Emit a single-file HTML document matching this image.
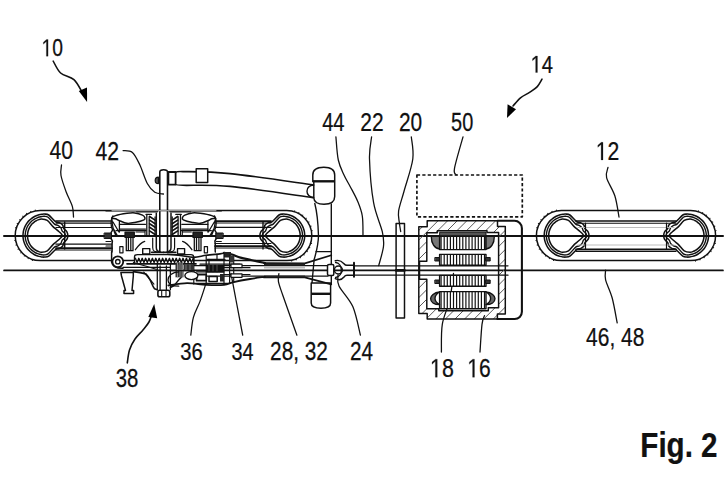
<!DOCTYPE html>
<html><head><meta charset="utf-8"><style>
html,body{margin:0;padding:0;background:#fff;width:728px;height:483px;overflow:hidden}
svg{display:block}
text{font-family:"Liberation Sans",sans-serif;fill:#111;stroke:#111;stroke-width:0.25px}
</style></head><body>
<svg width="728" height="483" viewBox="0 0 728 483">
<rect width="728" height="483" fill="#fff"/>
<g stroke="#111" stroke-linecap="round" stroke-linejoin="round" fill="none">
<path d="M61.50 165.00 C61.42 166.75 60.22 171.00 61.00 175.50 C61.78 180.00 64.30 186.82 66.20 192.00 C68.10 197.18 71.18 202.43 72.40 206.60 C73.62 210.77 73.32 215.27 73.50 217.00" stroke-width="1.28" fill="none" />
<path d="M123.10 150.60 C124.65 150.90 129.62 150.03 132.40 152.40 C135.18 154.77 137.32 159.62 139.80 164.80 C142.28 169.98 144.80 178.93 147.30 183.50 C149.80 188.07 152.12 190.45 154.80 192.20 C157.48 193.95 161.97 193.70 163.40 194.00" stroke-width="1.28" fill="none" />
<path d="M335.90 136.80 C336.30 140.67 336.95 153.63 338.30 160.00 C339.65 166.37 342.05 170.63 344.00 175.00 C345.95 179.37 347.75 181.87 350.00 186.20 C352.25 190.53 355.45 196.03 357.50 201.00 C359.55 205.97 361.38 210.17 362.30 216.00 C363.22 221.83 362.88 232.67 363.00 236.00" stroke-width="1.28" fill="none" />
<path d="M371.60 136.80 C371.25 140.50 369.17 148.02 369.50 159.00 C369.83 169.98 371.47 190.58 373.60 202.70 C375.73 214.82 380.65 224.43 382.30 231.70 C383.95 238.97 384.10 240.65 383.50 246.30 C382.90 251.95 379.50 262.38 378.70 265.60" stroke-width="1.28" fill="none" />
<path d="M411.30 136.80 C411.55 140.50 414.00 149.97 412.80 159.00 C411.60 168.03 406.47 182.33 404.10 191.00 C401.73 199.67 399.38 205.67 398.60 211.00 C397.82 216.33 399.05 219.58 399.40 223.00 C399.75 226.42 400.48 230.08 400.70 231.50" stroke-width="1.28" fill="none" />
<path d="M463.00 136.80 C461.58 142.05 455.63 161.95 454.50 168.30 C453.37 174.65 455.92 173.80 456.20 174.90" stroke-width="1.28" fill="none" />
<path d="M608.00 167.30 C607.77 169.02 605.45 172.82 606.60 177.60 C607.75 182.38 612.83 189.43 614.90 196.00 C616.97 202.57 618.32 213.50 619.00 217.00" stroke-width="1.28" fill="none" />
<path d="M605.60 270.20 C605.60 271.80 604.50 275.17 605.60 279.80 C606.70 284.43 610.27 290.82 612.20 298.00 C614.13 305.18 616.37 318.75 617.20 322.90" stroke-width="1.28" fill="none" />
<path d="M190.80 335.20 C191.23 332.22 191.87 322.93 193.40 317.30 C194.93 311.67 197.90 307.05 200.00 301.40 C202.10 295.75 205.00 286.40 206.00 283.40" stroke-width="1.28" fill="none" />
<path d="M242.70 335.20 C241.58 329.33 237.95 310.28 236.00 300.00 C234.05 289.72 231.83 277.92 231.00 273.50" stroke-width="1.28" fill="none" />
<path d="M296.90 335.20 C294.53 328.50 285.78 303.98 282.70 295.00 C279.62 286.02 279.03 284.87 278.40 281.30 C277.77 277.73 278.82 274.88 278.90 273.60" stroke-width="1.28" fill="none" />
<path d="M360.40 335.20 C359.13 330.43 356.37 314.80 352.80 306.60 C349.23 298.40 341.47 291.27 339.00 286.00 C336.53 280.73 338.17 276.83 338.00 275.00" stroke-width="1.28" fill="none" />
<path d="M441.40 352.00 C441.55 347.38 440.90 333.05 442.30 324.30 C443.70 315.55 447.93 307.98 449.80 299.50 C451.67 291.02 452.88 277.75 453.50 273.40" stroke-width="1.28" fill="none" />
<path d="M480.00 352.00 C480.33 347.38 481.25 330.37 482.00 324.30 C482.75 318.23 484.08 317.05 484.50 315.60" stroke-width="1.28" fill="none" />
<path d="M53.20 61.10 C54.43 63.08 57.15 69.90 60.60 73.00 C64.05 76.10 70.33 76.53 73.90 79.70 C77.47 82.87 80.65 89.95 82.00 92.00" stroke-width="1.58" fill="none" />
<path d="M87.10 102.00 L78.80 91.00 L87.00 87.50 Z" fill="#000" stroke="none"/>
<path d="M542.00 79.20 C541.22 80.43 539.32 84.43 537.30 86.60 C535.28 88.77 532.70 90.33 529.90 92.20 C527.10 94.07 523.32 95.50 520.50 97.80 C517.68 100.10 514.25 104.63 513.00 106.00" stroke-width="1.58" fill="none" />
<path d="M507.00 118.00 L507.60 104.20 L516.00 109.20 Z" fill="#000" stroke="none"/>
<path d="M127.30 362.90 C127.67 360.75 128.22 353.98 129.50 350.00 C130.78 346.02 132.75 342.33 135.00 339.00 C137.25 335.67 140.67 332.83 143.00 330.00 C145.33 327.17 147.50 324.67 149.00 322.00 C150.50 319.33 151.50 315.33 152.00 314.00" stroke-width="1.58" fill="none" />
<path d="M154.20 304.00 L148.30 317.00 L157.20 318.20 Z" fill="#000" stroke="none"/>
<line x1="4.00" y1="236.00" x2="723.00" y2="236.00" stroke-width="1.98" />
<line x1="4.00" y1="270.40" x2="723.00" y2="270.40" stroke-width="1.68" />
<path d="M40.20 210.60 L286.80 210.60 A25.00 25.00 0 0 1 286.80 260.60 L40.20 260.60 A25.00 25.00 0 0 1 40.20 210.60 Z" stroke-width="1.48"/>
<path d="M35.72 210.19 C35.35 210.27 34.25 210.49 33.52 210.68 C32.80 210.87 32.08 211.10 31.38 211.36 C30.67 211.61 29.98 211.90 29.30 212.22 C28.62 212.53 27.95 212.88 27.30 213.26 C26.65 213.63 26.02 214.04 25.40 214.47 C24.79 214.90 24.19 215.35 23.62 215.84 C23.04 216.32 22.49 216.83 21.96 217.36 C21.43 217.89 20.92 218.44 20.44 219.02 C19.95 219.59 19.50 220.19 19.07 220.80 C18.64 221.42 18.23 222.05 17.86 222.70 C17.48 223.35 17.13 224.02 16.82 224.70 C16.50 225.38 16.21 226.07 15.96 226.78 C15.70 227.48 15.47 228.20 15.28 228.92 C15.09 229.65 14.87 230.75 14.79 231.12" stroke-width="1.28" stroke-dasharray="1.0 3.6" stroke-linecap="butt"/>
<path d="M14.79 240.08 C14.87 240.45 15.09 241.55 15.28 242.28 C15.47 243.00 15.70 243.72 15.96 244.42 C16.21 245.13 16.50 245.82 16.82 246.50 C17.13 247.18 17.48 247.85 17.86 248.50 C18.23 249.15 18.64 249.78 19.07 250.40 C19.50 251.01 19.95 251.61 20.44 252.18 C20.92 252.76 21.43 253.31 21.96 253.84 C22.49 254.37 23.04 254.88 23.62 255.36 C24.19 255.85 24.79 256.30 25.40 256.73 C26.02 257.16 26.65 257.57 27.30 257.94 C27.95 258.32 28.62 258.67 29.30 258.98 C29.98 259.30 30.67 259.59 31.38 259.84 C32.08 260.10 32.80 260.33 33.52 260.52 C34.25 260.71 35.35 260.93 35.72 261.01" stroke-width="1.28" stroke-dasharray="1.0 3.6" stroke-linecap="butt"/>
<path d="M291.28 261.01 C291.65 260.93 292.75 260.71 293.48 260.52 C294.20 260.33 294.92 260.10 295.62 259.84 C296.33 259.59 297.02 259.30 297.70 258.98 C298.38 258.67 299.05 258.32 299.70 257.94 C300.35 257.57 300.98 257.16 301.60 256.73 C302.21 256.30 302.81 255.85 303.38 255.36 C303.96 254.88 304.51 254.37 305.04 253.84 C305.57 253.31 306.08 252.76 306.56 252.18 C307.05 251.61 307.50 251.01 307.93 250.40 C308.36 249.78 308.77 249.15 309.14 248.50 C309.52 247.85 309.87 247.18 310.18 246.50 C310.50 245.82 310.79 245.13 311.04 244.42 C311.30 243.72 311.53 243.00 311.72 242.28 C311.91 241.55 312.13 240.45 312.21 240.08" stroke-width="1.28" stroke-dasharray="1.0 3.6" stroke-linecap="butt"/>
<path d="M312.21 231.12 C312.13 230.75 311.91 229.65 311.72 228.92 C311.53 228.20 311.30 227.48 311.04 226.78 C310.79 226.07 310.50 225.38 310.18 224.70 C309.87 224.02 309.52 223.35 309.14 222.70 C308.77 222.05 308.36 221.42 307.93 220.80 C307.50 220.19 307.05 219.59 306.56 219.02 C306.08 218.44 305.57 217.89 305.04 217.36 C304.51 216.83 303.96 216.32 303.38 215.84 C302.81 215.35 302.21 214.90 301.60 214.47 C300.98 214.04 300.35 213.63 299.70 213.26 C299.05 212.88 298.38 212.53 297.70 212.22 C297.02 211.90 296.33 211.61 295.62 211.36 C294.92 211.10 294.20 210.87 293.48 210.68 C292.75 210.49 291.65 210.27 291.28 210.19" stroke-width="1.28" stroke-dasharray="1.0 3.6" stroke-linecap="butt"/>
<path d="M44.50 214.10 C43.33 213.98 42.62 214.16 41.69 214.28 C40.77 214.41 39.84 214.59 38.94 214.83 C38.03 215.07 37.14 215.38 36.27 215.74 C35.41 216.09 34.56 216.51 33.75 216.98 C32.94 217.45 32.15 217.97 31.41 218.54 C30.67 219.11 29.96 219.74 29.30 220.40 C28.64 221.06 28.01 221.77 27.44 222.51 C26.87 223.25 26.35 224.04 25.88 224.85 C25.41 225.66 24.99 226.51 24.64 227.37 C24.28 228.24 23.97 229.13 23.73 230.04 C23.49 230.94 23.31 231.87 23.18 232.79 C23.06 233.72 23.00 234.66 23.00 235.60 C23.00 236.54 23.06 237.48 23.18 238.41 C23.31 239.33 23.49 240.26 23.73 241.16 C23.97 242.07 24.28 242.96 24.64 243.83 C24.99 244.69 25.41 245.54 25.88 246.35 C26.35 247.16 26.87 247.95 27.44 248.69 C28.01 249.43 28.64 250.14 29.30 250.80 C29.96 251.46 30.67 252.09 31.41 252.66 C32.15 253.23 32.94 253.75 33.75 254.22 C34.56 254.69 35.41 255.11 36.27 255.46 C37.14 255.82 38.03 256.13 38.94 256.37 C39.84 256.61 40.77 256.79 41.69 256.92 C42.62 257.04 43.33 257.22 44.50 257.10 C45.67 256.98 46.87 257.45 48.70 256.20 C50.53 254.95 53.75 250.87 55.50 249.60 C57.25 248.33 58.02 249.17 59.20 248.60 C60.38 248.03 61.83 247.20 62.60 246.20 C63.37 245.20 63.08 243.73 63.80 242.60 C64.52 241.47 66.23 240.57 66.90 239.40 C67.57 238.23 67.80 236.87 67.80 235.60 C67.80 234.33 67.57 232.97 66.90 231.80 C66.23 230.63 64.52 229.73 63.80 228.60 C63.08 227.47 63.37 226.00 62.60 225.00 C61.83 224.00 60.38 223.17 59.20 222.60 C58.02 222.03 57.25 222.87 55.50 221.60 C53.75 220.33 50.53 216.25 48.70 215.00 C46.87 213.75 45.67 214.22 44.50 214.10 Z" stroke-width="1.53" fill="none"/>
<path d="M44.50 216.30 C43.48 216.16 42.81 216.36 41.98 216.47 C41.15 216.57 40.32 216.74 39.50 216.96 C38.69 217.17 37.89 217.45 37.11 217.77 C36.34 218.09 35.58 218.47 34.85 218.89 C34.12 219.31 33.42 219.78 32.75 220.29 C32.08 220.80 31.45 221.36 30.85 221.95 C30.26 222.55 29.70 223.18 29.19 223.85 C28.68 224.52 28.21 225.22 27.79 225.95 C27.37 226.68 26.99 227.44 26.67 228.21 C26.35 228.99 26.07 229.79 25.86 230.60 C25.64 231.42 25.47 232.25 25.37 233.08 C25.26 233.91 25.20 234.76 25.20 235.60 C25.20 236.44 25.26 237.29 25.37 238.12 C25.47 238.95 25.64 239.78 25.86 240.60 C26.07 241.41 26.35 242.21 26.67 242.99 C26.99 243.76 27.37 244.52 27.79 245.25 C28.21 245.98 28.68 246.68 29.19 247.35 C29.70 248.02 30.26 248.65 30.85 249.25 C31.45 249.84 32.08 250.40 32.75 250.91 C33.42 251.42 34.12 251.89 34.85 252.31 C35.58 252.73 36.34 253.11 37.11 253.43 C37.89 253.75 38.69 254.03 39.50 254.24 C40.32 254.46 41.15 254.63 41.98 254.73 C42.81 254.84 43.48 255.04 44.50 254.90 C45.52 254.76 46.43 255.20 48.10 253.90 C49.77 252.60 52.87 248.43 54.50 247.10 C56.13 245.77 56.83 246.52 57.90 245.90 C58.97 245.28 60.20 244.32 60.90 243.40 C61.60 242.48 61.43 241.37 62.10 240.40 C62.77 239.43 64.37 238.40 64.90 237.60 C65.43 236.80 65.30 236.27 65.30 235.60 C65.30 234.93 65.43 234.40 64.90 233.60 C64.37 232.80 62.77 231.77 62.10 230.80 C61.43 229.83 61.60 228.72 60.90 227.80 C60.20 226.88 58.97 225.92 57.90 225.30 C56.83 224.68 56.13 225.43 54.50 224.10 C52.87 222.77 49.77 218.60 48.10 217.30 C46.43 216.00 45.52 216.44 44.50 216.30 Z" stroke-width="1.38" fill="none"/>
<path d="M41.50 218.90 C39.95 218.82 38.91 219.56 37.99 219.89 C37.08 220.22 36.64 220.51 36.00 220.88 C35.36 221.25 34.74 221.66 34.15 222.11 C33.56 222.56 33.00 223.06 32.48 223.58 C31.96 224.10 31.46 224.66 31.01 225.25 C30.56 225.84 30.15 226.46 29.78 227.10 C29.41 227.74 29.08 228.41 28.79 229.09 C28.51 229.78 28.27 230.49 28.08 231.20 C27.89 231.91 27.74 232.65 27.65 233.38 C27.55 234.11 27.50 234.86 27.50 235.60 C27.50 236.34 27.55 237.09 27.65 237.82 C27.74 238.55 27.89 239.29 28.08 240.00 C28.27 240.71 28.51 241.42 28.79 242.11 C29.08 242.79 29.41 243.46 29.78 244.10 C30.15 244.74 30.56 245.36 31.01 245.95 C31.46 246.54 31.96 247.10 32.48 247.62 C33.00 248.14 33.56 248.64 34.15 249.09 C34.74 249.54 35.36 249.95 36.00 250.32 C36.64 250.69 37.08 250.98 37.99 251.31 C38.91 251.64 39.95 252.38 41.50 252.30 C43.05 252.22 45.38 252.08 47.30 250.80 C49.22 249.52 51.30 246.27 53.00 244.60 C54.70 242.93 55.95 242.30 57.50 240.80 C59.05 239.30 62.30 237.33 62.30 235.60 C62.30 233.87 59.05 231.90 57.50 230.40 C55.95 228.90 54.70 228.27 53.00 226.60 C51.30 224.93 49.22 221.68 47.30 220.40 C45.38 219.12 43.05 218.98 41.50 218.90 Z" stroke-width="1.53" fill="none"/>
<path d="M283.20 214.10 C284.37 213.98 285.08 214.16 286.01 214.28 C286.93 214.41 287.86 214.59 288.76 214.83 C289.67 215.07 290.56 215.38 291.43 215.74 C292.29 216.09 293.14 216.51 293.95 216.98 C294.76 217.45 295.55 217.97 296.29 218.54 C297.03 219.11 297.74 219.74 298.40 220.40 C299.06 221.06 299.69 221.77 300.26 222.51 C300.83 223.25 301.35 224.04 301.82 224.85 C302.29 225.66 302.71 226.51 303.06 227.37 C303.42 228.24 303.73 229.13 303.97 230.04 C304.21 230.94 304.39 231.87 304.52 232.79 C304.64 233.72 304.70 234.66 304.70 235.60 C304.70 236.54 304.64 237.48 304.52 238.41 C304.39 239.33 304.21 240.26 303.97 241.16 C303.73 242.07 303.42 242.96 303.06 243.83 C302.71 244.69 302.29 245.54 301.82 246.35 C301.35 247.16 300.83 247.95 300.26 248.69 C299.69 249.43 299.06 250.14 298.40 250.80 C297.74 251.46 297.03 252.09 296.29 252.66 C295.55 253.23 294.76 253.75 293.95 254.22 C293.14 254.69 292.29 255.11 291.43 255.46 C290.56 255.82 289.67 256.13 288.76 256.37 C287.86 256.61 286.93 256.79 286.01 256.92 C285.08 257.04 284.37 257.22 283.20 257.10 C282.03 256.98 280.83 257.45 279.00 256.20 C277.17 254.95 273.95 250.87 272.20 249.60 C270.45 248.33 269.68 249.17 268.50 248.60 C267.32 248.03 265.87 247.20 265.10 246.20 C264.33 245.20 264.62 243.73 263.90 242.60 C263.18 241.47 261.47 240.57 260.80 239.40 C260.13 238.23 259.90 236.87 259.90 235.60 C259.90 234.33 260.13 232.97 260.80 231.80 C261.47 230.63 263.18 229.73 263.90 228.60 C264.62 227.47 264.33 226.00 265.10 225.00 C265.87 224.00 267.32 223.17 268.50 222.60 C269.68 222.03 270.45 222.87 272.20 221.60 C273.95 220.33 277.17 216.25 279.00 215.00 C280.83 213.75 282.03 214.22 283.20 214.10 Z" stroke-width="1.53" fill="none"/>
<path d="M283.20 216.30 C284.22 216.16 284.89 216.36 285.72 216.47 C286.55 216.57 287.38 216.74 288.20 216.96 C289.01 217.17 289.81 217.45 290.59 217.77 C291.36 218.09 292.12 218.47 292.85 218.89 C293.58 219.31 294.28 219.78 294.95 220.29 C295.62 220.80 296.25 221.36 296.85 221.95 C297.44 222.55 298.00 223.18 298.51 223.85 C299.02 224.52 299.49 225.22 299.91 225.95 C300.33 226.68 300.71 227.44 301.03 228.21 C301.35 228.99 301.63 229.79 301.84 230.60 C302.06 231.42 302.23 232.25 302.33 233.08 C302.44 233.91 302.50 234.76 302.50 235.60 C302.50 236.44 302.44 237.29 302.33 238.12 C302.23 238.95 302.06 239.78 301.84 240.60 C301.63 241.41 301.35 242.21 301.03 242.99 C300.71 243.76 300.33 244.52 299.91 245.25 C299.49 245.98 299.02 246.68 298.51 247.35 C298.00 248.02 297.44 248.65 296.85 249.25 C296.25 249.84 295.62 250.40 294.95 250.91 C294.28 251.42 293.58 251.89 292.85 252.31 C292.12 252.73 291.36 253.11 290.59 253.43 C289.81 253.75 289.01 254.03 288.20 254.24 C287.38 254.46 286.55 254.63 285.72 254.73 C284.89 254.84 284.22 255.04 283.20 254.90 C282.18 254.76 281.27 255.20 279.60 253.90 C277.93 252.60 274.83 248.43 273.20 247.10 C271.57 245.77 270.87 246.52 269.80 245.90 C268.73 245.28 267.50 244.32 266.80 243.40 C266.10 242.48 266.27 241.37 265.60 240.40 C264.93 239.43 263.33 238.40 262.80 237.60 C262.27 236.80 262.40 236.27 262.40 235.60 C262.40 234.93 262.27 234.40 262.80 233.60 C263.33 232.80 264.93 231.77 265.60 230.80 C266.27 229.83 266.10 228.72 266.80 227.80 C267.50 226.88 268.73 225.92 269.80 225.30 C270.87 224.68 271.57 225.43 273.20 224.10 C274.83 222.77 277.93 218.60 279.60 217.30 C281.27 216.00 282.18 216.44 283.20 216.30 Z" stroke-width="1.38" fill="none"/>
<path d="M286.20 218.90 C287.75 218.82 288.79 219.56 289.71 219.89 C290.62 220.22 291.06 220.51 291.70 220.88 C292.34 221.25 292.96 221.66 293.55 222.11 C294.14 222.56 294.70 223.06 295.22 223.58 C295.74 224.10 296.24 224.66 296.69 225.25 C297.14 225.84 297.55 226.46 297.92 227.10 C298.29 227.74 298.62 228.41 298.91 229.09 C299.19 229.78 299.43 230.49 299.62 231.20 C299.81 231.91 299.96 232.65 300.05 233.38 C300.15 234.11 300.20 234.86 300.20 235.60 C300.20 236.34 300.15 237.09 300.05 237.82 C299.96 238.55 299.81 239.29 299.62 240.00 C299.43 240.71 299.19 241.42 298.91 242.11 C298.62 242.79 298.29 243.46 297.92 244.10 C297.55 244.74 297.14 245.36 296.69 245.95 C296.24 246.54 295.74 247.10 295.22 247.62 C294.70 248.14 294.14 248.64 293.55 249.09 C292.96 249.54 292.34 249.95 291.70 250.32 C291.06 250.69 290.62 250.98 289.71 251.31 C288.79 251.64 287.75 252.38 286.20 252.30 C284.65 252.22 282.32 252.08 280.40 250.80 C278.48 249.52 276.40 246.27 274.70 244.60 C273.00 242.93 271.75 242.30 270.20 240.80 C268.65 239.30 265.40 237.33 265.40 235.60 C265.40 233.87 268.65 231.90 270.20 230.40 C271.75 228.90 273.00 228.27 274.70 226.60 C276.40 224.93 278.48 221.68 280.40 220.40 C282.32 219.12 284.65 218.98 286.20 218.90 Z" stroke-width="1.53" fill="none"/>
<path d="M561.40 210.60 L690.60 210.60 A25.00 25.00 0 0 1 690.60 260.60 L561.40 260.60 A25.00 25.00 0 0 1 561.40 210.60 Z" stroke-width="1.48"/>
<path d="M556.92 210.19 C556.55 210.27 555.45 210.49 554.72 210.68 C554.00 210.87 553.28 211.10 552.58 211.36 C551.87 211.61 551.18 211.90 550.50 212.22 C549.82 212.53 549.15 212.88 548.50 213.26 C547.85 213.63 547.22 214.04 546.60 214.47 C545.99 214.90 545.39 215.35 544.82 215.84 C544.24 216.32 543.69 216.83 543.16 217.36 C542.63 217.89 542.12 218.44 541.64 219.02 C541.15 219.59 540.70 220.19 540.27 220.80 C539.84 221.42 539.43 222.05 539.06 222.70 C538.68 223.35 538.33 224.02 538.02 224.70 C537.70 225.38 537.41 226.07 537.16 226.78 C536.90 227.48 536.67 228.20 536.48 228.92 C536.29 229.65 536.07 230.75 535.99 231.12" stroke-width="1.28" stroke-dasharray="1.0 3.6" stroke-linecap="butt"/>
<path d="M535.99 240.08 C536.07 240.45 536.29 241.55 536.48 242.28 C536.67 243.00 536.90 243.72 537.16 244.42 C537.41 245.13 537.70 245.82 538.02 246.50 C538.33 247.18 538.68 247.85 539.06 248.50 C539.43 249.15 539.84 249.78 540.27 250.40 C540.70 251.01 541.15 251.61 541.64 252.18 C542.12 252.76 542.63 253.31 543.16 253.84 C543.69 254.37 544.24 254.88 544.82 255.36 C545.39 255.85 545.99 256.30 546.60 256.73 C547.22 257.16 547.85 257.57 548.50 257.94 C549.15 258.32 549.82 258.67 550.50 258.98 C551.18 259.30 551.87 259.59 552.58 259.84 C553.28 260.10 554.00 260.33 554.72 260.52 C555.45 260.71 556.55 260.93 556.92 261.01" stroke-width="1.28" stroke-dasharray="1.0 3.6" stroke-linecap="butt"/>
<path d="M695.08 261.01 C695.45 260.93 696.55 260.71 697.28 260.52 C698.00 260.33 698.72 260.10 699.42 259.84 C700.13 259.59 700.82 259.30 701.50 258.98 C702.18 258.67 702.85 258.32 703.50 257.94 C704.15 257.57 704.78 257.16 705.40 256.73 C706.01 256.30 706.61 255.85 707.18 255.36 C707.76 254.88 708.31 254.37 708.84 253.84 C709.37 253.31 709.88 252.76 710.36 252.18 C710.85 251.61 711.30 251.01 711.73 250.40 C712.16 249.78 712.57 249.15 712.94 248.50 C713.32 247.85 713.67 247.18 713.98 246.50 C714.30 245.82 714.59 245.13 714.84 244.42 C715.10 243.72 715.33 243.00 715.52 242.28 C715.71 241.55 715.93 240.45 716.01 240.08" stroke-width="1.28" stroke-dasharray="1.0 3.6" stroke-linecap="butt"/>
<path d="M716.01 231.12 C715.93 230.75 715.71 229.65 715.52 228.92 C715.33 228.20 715.10 227.48 714.84 226.78 C714.59 226.07 714.30 225.38 713.98 224.70 C713.67 224.02 713.32 223.35 712.94 222.70 C712.57 222.05 712.16 221.42 711.73 220.80 C711.30 220.19 710.85 219.59 710.36 219.02 C709.88 218.44 709.37 217.89 708.84 217.36 C708.31 216.83 707.76 216.32 707.18 215.84 C706.61 215.35 706.01 214.90 705.40 214.47 C704.78 214.04 704.15 213.63 703.50 213.26 C702.85 212.88 702.18 212.53 701.50 212.22 C700.82 211.90 700.13 211.61 699.42 211.36 C698.72 211.10 698.00 210.87 697.28 210.68 C696.55 210.49 695.45 210.27 695.08 210.19" stroke-width="1.28" stroke-dasharray="1.0 3.6" stroke-linecap="butt"/>
<path d="M565.70 214.10 C564.53 213.98 563.82 214.16 562.89 214.28 C561.97 214.41 561.04 214.59 560.14 214.83 C559.23 215.07 558.34 215.38 557.47 215.74 C556.61 216.09 555.76 216.51 554.95 216.98 C554.14 217.45 553.35 217.97 552.61 218.54 C551.87 219.11 551.16 219.74 550.50 220.40 C549.84 221.06 549.21 221.77 548.64 222.51 C548.07 223.25 547.55 224.04 547.08 224.85 C546.61 225.66 546.19 226.51 545.84 227.37 C545.48 228.24 545.17 229.13 544.93 230.04 C544.69 230.94 544.51 231.87 544.38 232.79 C544.26 233.72 544.20 234.66 544.20 235.60 C544.20 236.54 544.26 237.48 544.38 238.41 C544.51 239.33 544.69 240.26 544.93 241.16 C545.17 242.07 545.48 242.96 545.84 243.83 C546.19 244.69 546.61 245.54 547.08 246.35 C547.55 247.16 548.07 247.95 548.64 248.69 C549.21 249.43 549.84 250.14 550.50 250.80 C551.16 251.46 551.87 252.09 552.61 252.66 C553.35 253.23 554.14 253.75 554.95 254.22 C555.76 254.69 556.61 255.11 557.47 255.46 C558.34 255.82 559.23 256.13 560.14 256.37 C561.04 256.61 561.97 256.79 562.89 256.92 C563.82 257.04 564.53 257.22 565.70 257.10 C566.87 256.98 568.07 257.45 569.90 256.20 C571.73 254.95 574.95 250.87 576.70 249.60 C578.45 248.33 579.22 249.17 580.40 248.60 C581.58 248.03 583.03 247.20 583.80 246.20 C584.57 245.20 584.28 243.73 585.00 242.60 C585.72 241.47 587.43 240.57 588.10 239.40 C588.77 238.23 589.00 236.87 589.00 235.60 C589.00 234.33 588.77 232.97 588.10 231.80 C587.43 230.63 585.72 229.73 585.00 228.60 C584.28 227.47 584.57 226.00 583.80 225.00 C583.03 224.00 581.58 223.17 580.40 222.60 C579.22 222.03 578.45 222.87 576.70 221.60 C574.95 220.33 571.73 216.25 569.90 215.00 C568.07 213.75 566.87 214.22 565.70 214.10 Z" stroke-width="1.53" fill="none"/>
<path d="M565.70 216.30 C564.68 216.16 564.01 216.36 563.18 216.47 C562.35 216.57 561.52 216.74 560.70 216.96 C559.89 217.17 559.09 217.45 558.31 217.77 C557.54 218.09 556.78 218.47 556.05 218.89 C555.32 219.31 554.62 219.78 553.95 220.29 C553.28 220.80 552.65 221.36 552.05 221.95 C551.46 222.55 550.90 223.18 550.39 223.85 C549.88 224.52 549.41 225.22 548.99 225.95 C548.57 226.68 548.19 227.44 547.87 228.21 C547.55 228.99 547.27 229.79 547.06 230.60 C546.84 231.42 546.67 232.25 546.57 233.08 C546.46 233.91 546.40 234.76 546.40 235.60 C546.40 236.44 546.46 237.29 546.57 238.12 C546.67 238.95 546.84 239.78 547.06 240.60 C547.27 241.41 547.55 242.21 547.87 242.99 C548.19 243.76 548.57 244.52 548.99 245.25 C549.41 245.98 549.88 246.68 550.39 247.35 C550.90 248.02 551.46 248.65 552.05 249.25 C552.65 249.84 553.28 250.40 553.95 250.91 C554.62 251.42 555.32 251.89 556.05 252.31 C556.78 252.73 557.54 253.11 558.31 253.43 C559.09 253.75 559.89 254.03 560.70 254.24 C561.52 254.46 562.35 254.63 563.18 254.73 C564.01 254.84 564.68 255.04 565.70 254.90 C566.72 254.76 567.63 255.20 569.30 253.90 C570.97 252.60 574.07 248.43 575.70 247.10 C577.33 245.77 578.03 246.52 579.10 245.90 C580.17 245.28 581.40 244.32 582.10 243.40 C582.80 242.48 582.63 241.37 583.30 240.40 C583.97 239.43 585.57 238.40 586.10 237.60 C586.63 236.80 586.50 236.27 586.50 235.60 C586.50 234.93 586.63 234.40 586.10 233.60 C585.57 232.80 583.97 231.77 583.30 230.80 C582.63 229.83 582.80 228.72 582.10 227.80 C581.40 226.88 580.17 225.92 579.10 225.30 C578.03 224.68 577.33 225.43 575.70 224.10 C574.07 222.77 570.97 218.60 569.30 217.30 C567.63 216.00 566.72 216.44 565.70 216.30 Z" stroke-width="1.38" fill="none"/>
<path d="M562.70 218.90 C561.15 218.82 560.11 219.56 559.19 219.89 C558.28 220.22 557.84 220.51 557.20 220.88 C556.56 221.25 555.94 221.66 555.35 222.11 C554.76 222.56 554.20 223.06 553.68 223.58 C553.16 224.10 552.66 224.66 552.21 225.25 C551.76 225.84 551.35 226.46 550.98 227.10 C550.61 227.74 550.28 228.41 549.99 229.09 C549.71 229.78 549.47 230.49 549.28 231.20 C549.09 231.91 548.94 232.65 548.85 233.38 C548.75 234.11 548.70 234.86 548.70 235.60 C548.70 236.34 548.75 237.09 548.85 237.82 C548.94 238.55 549.09 239.29 549.28 240.00 C549.47 240.71 549.71 241.42 549.99 242.11 C550.28 242.79 550.61 243.46 550.98 244.10 C551.35 244.74 551.76 245.36 552.21 245.95 C552.66 246.54 553.16 247.10 553.68 247.62 C554.20 248.14 554.76 248.64 555.35 249.09 C555.94 249.54 556.56 249.95 557.20 250.32 C557.84 250.69 558.28 250.98 559.19 251.31 C560.11 251.64 561.15 252.38 562.70 252.30 C564.25 252.22 566.58 252.08 568.50 250.80 C570.42 249.52 572.50 246.27 574.20 244.60 C575.90 242.93 577.15 242.30 578.70 240.80 C580.25 239.30 583.50 237.33 583.50 235.60 C583.50 233.87 580.25 231.90 578.70 230.40 C577.15 228.90 575.90 228.27 574.20 226.60 C572.50 224.93 570.42 221.68 568.50 220.40 C566.58 219.12 564.25 218.98 562.70 218.90 Z" stroke-width="1.53" fill="none"/>
<path d="M687.00 214.10 C688.17 213.98 688.88 214.16 689.81 214.28 C690.73 214.41 691.66 214.59 692.56 214.83 C693.47 215.07 694.36 215.38 695.23 215.74 C696.09 216.09 696.94 216.51 697.75 216.98 C698.56 217.45 699.35 217.97 700.09 218.54 C700.83 219.11 701.54 219.74 702.20 220.40 C702.86 221.06 703.49 221.77 704.06 222.51 C704.63 223.25 705.15 224.04 705.62 224.85 C706.09 225.66 706.51 226.51 706.86 227.37 C707.22 228.24 707.53 229.13 707.77 230.04 C708.01 230.94 708.19 231.87 708.32 232.79 C708.44 233.72 708.50 234.66 708.50 235.60 C708.50 236.54 708.44 237.48 708.32 238.41 C708.19 239.33 708.01 240.26 707.77 241.16 C707.53 242.07 707.22 242.96 706.86 243.83 C706.51 244.69 706.09 245.54 705.62 246.35 C705.15 247.16 704.63 247.95 704.06 248.69 C703.49 249.43 702.86 250.14 702.20 250.80 C701.54 251.46 700.83 252.09 700.09 252.66 C699.35 253.23 698.56 253.75 697.75 254.22 C696.94 254.69 696.09 255.11 695.23 255.46 C694.36 255.82 693.47 256.13 692.56 256.37 C691.66 256.61 690.73 256.79 689.81 256.92 C688.88 257.04 688.17 257.22 687.00 257.10 C685.83 256.98 684.63 257.45 682.80 256.20 C680.97 254.95 677.75 250.87 676.00 249.60 C674.25 248.33 673.48 249.17 672.30 248.60 C671.12 248.03 669.67 247.20 668.90 246.20 C668.13 245.20 668.42 243.73 667.70 242.60 C666.98 241.47 665.27 240.57 664.60 239.40 C663.93 238.23 663.70 236.87 663.70 235.60 C663.70 234.33 663.93 232.97 664.60 231.80 C665.27 230.63 666.98 229.73 667.70 228.60 C668.42 227.47 668.13 226.00 668.90 225.00 C669.67 224.00 671.12 223.17 672.30 222.60 C673.48 222.03 674.25 222.87 676.00 221.60 C677.75 220.33 680.97 216.25 682.80 215.00 C684.63 213.75 685.83 214.22 687.00 214.10 Z" stroke-width="1.53" fill="none"/>
<path d="M687.00 216.30 C688.02 216.16 688.69 216.36 689.52 216.47 C690.35 216.57 691.18 216.74 692.00 216.96 C692.81 217.17 693.61 217.45 694.39 217.77 C695.16 218.09 695.92 218.47 696.65 218.89 C697.38 219.31 698.08 219.78 698.75 220.29 C699.42 220.80 700.05 221.36 700.65 221.95 C701.24 222.55 701.80 223.18 702.31 223.85 C702.82 224.52 703.29 225.22 703.71 225.95 C704.13 226.68 704.51 227.44 704.83 228.21 C705.15 228.99 705.43 229.79 705.64 230.60 C705.86 231.42 706.03 232.25 706.13 233.08 C706.24 233.91 706.30 234.76 706.30 235.60 C706.30 236.44 706.24 237.29 706.13 238.12 C706.03 238.95 705.86 239.78 705.64 240.60 C705.43 241.41 705.15 242.21 704.83 242.99 C704.51 243.76 704.13 244.52 703.71 245.25 C703.29 245.98 702.82 246.68 702.31 247.35 C701.80 248.02 701.24 248.65 700.65 249.25 C700.05 249.84 699.42 250.40 698.75 250.91 C698.08 251.42 697.38 251.89 696.65 252.31 C695.92 252.73 695.16 253.11 694.39 253.43 C693.61 253.75 692.81 254.03 692.00 254.24 C691.18 254.46 690.35 254.63 689.52 254.73 C688.69 254.84 688.02 255.04 687.00 254.90 C685.98 254.76 685.07 255.20 683.40 253.90 C681.73 252.60 678.63 248.43 677.00 247.10 C675.37 245.77 674.67 246.52 673.60 245.90 C672.53 245.28 671.30 244.32 670.60 243.40 C669.90 242.48 670.07 241.37 669.40 240.40 C668.73 239.43 667.13 238.40 666.60 237.60 C666.07 236.80 666.20 236.27 666.20 235.60 C666.20 234.93 666.07 234.40 666.60 233.60 C667.13 232.80 668.73 231.77 669.40 230.80 C670.07 229.83 669.90 228.72 670.60 227.80 C671.30 226.88 672.53 225.92 673.60 225.30 C674.67 224.68 675.37 225.43 677.00 224.10 C678.63 222.77 681.73 218.60 683.40 217.30 C685.07 216.00 685.98 216.44 687.00 216.30 Z" stroke-width="1.38" fill="none"/>
<path d="M690.00 218.90 C691.55 218.82 692.59 219.56 693.51 219.89 C694.42 220.22 694.86 220.51 695.50 220.88 C696.14 221.25 696.76 221.66 697.35 222.11 C697.94 222.56 698.50 223.06 699.02 223.58 C699.54 224.10 700.04 224.66 700.49 225.25 C700.94 225.84 701.35 226.46 701.72 227.10 C702.09 227.74 702.42 228.41 702.71 229.09 C702.99 229.78 703.23 230.49 703.42 231.20 C703.61 231.91 703.76 232.65 703.85 233.38 C703.95 234.11 704.00 234.86 704.00 235.60 C704.00 236.34 703.95 237.09 703.85 237.82 C703.76 238.55 703.61 239.29 703.42 240.00 C703.23 240.71 702.99 241.42 702.71 242.11 C702.42 242.79 702.09 243.46 701.72 244.10 C701.35 244.74 700.94 245.36 700.49 245.95 C700.04 246.54 699.54 247.10 699.02 247.62 C698.50 248.14 697.94 248.64 697.35 249.09 C696.76 249.54 696.14 249.95 695.50 250.32 C694.86 250.69 694.42 250.98 693.51 251.31 C692.59 251.64 691.55 252.38 690.00 252.30 C688.45 252.22 686.12 252.08 684.20 250.80 C682.28 249.52 680.20 246.27 678.50 244.60 C676.80 242.93 675.55 242.30 674.00 240.80 C672.45 239.30 669.20 237.33 669.20 235.60 C669.20 233.87 672.45 231.90 674.00 230.40 C675.55 228.90 676.80 228.27 678.50 226.60 C680.20 224.93 682.28 221.68 684.20 220.40 C686.12 219.12 688.45 218.98 690.00 218.90 Z" stroke-width="1.53" fill="none"/>
<line x1="576.00" y1="221.00" x2="676.00" y2="221.00" stroke-width="1.68" />
<line x1="576.00" y1="223.20" x2="676.00" y2="223.20" stroke-width="1.08" />
<line x1="576.00" y1="249.30" x2="676.00" y2="249.30" stroke-width="1.68" />
<line x1="576.00" y1="251.40" x2="676.00" y2="251.40" stroke-width="1.08" />
<path d="M578 227.5 L674 227.5 M578 245 L674 245" stroke="#bbb" stroke-width="0.98"/>
<line x1="585.50" y1="223.20" x2="585.50" y2="249.30" stroke-width="1.18" />
<line x1="666.50" y1="223.20" x2="666.50" y2="249.30" stroke-width="1.18" />
<line x1="56.00" y1="221.00" x2="112.00" y2="221.00" stroke-width="1.68" />
<line x1="56.00" y1="223.10" x2="112.00" y2="223.10" stroke-width="1.08" />
<line x1="56.00" y1="227.50" x2="112.00" y2="227.50" stroke-width="1.18" />
<line x1="56.00" y1="244.20" x2="112.00" y2="244.20" stroke-width="1.18" />
<line x1="56.00" y1="248.20" x2="112.00" y2="248.20" stroke-width="1.68" />
<line x1="56.00" y1="250.00" x2="112.00" y2="250.00" stroke-width="1.08" />
<line x1="215.00" y1="221.10" x2="271.00" y2="221.10" stroke-width="1.68" />
<line x1="215.00" y1="223.00" x2="271.00" y2="223.00" stroke-width="1.08" />
<line x1="215.00" y1="227.30" x2="271.00" y2="227.30" stroke-width="1.18" />
<line x1="215.00" y1="243.50" x2="271.00" y2="243.50" stroke-width="1.18" />
<line x1="215.00" y1="246.10" x2="271.00" y2="246.10" stroke-width="1.68" />
<line x1="215.00" y1="248.00" x2="271.00" y2="248.00" stroke-width="1.08" />
<line x1="64.70" y1="222.00" x2="64.70" y2="249.00" stroke-width="1.38" />
<line x1="263.00" y1="222.00" x2="263.00" y2="249.00" stroke-width="1.38" />
<clipPath id="hc"><path d="M427.20 220.80 L497.50 220.80 L497.50 226.40 L505.30 226.40 L505.30 314.00 L497.40 314.00 L497.40 319.00 L427.20 319.00 L427.20 313.50 L418.80 313.50 L418.80 226.80 L427.20 226.80 Z M426.80 232.70 L437.40 232.70 L437.40 230.80 L487.00 230.80 L487.00 232.60 L498.60 232.60 L498.60 279.30 L498.60 307.80 L488.30 307.80 L488.30 310.80 L438.80 310.80 L438.80 308.70 L426.80 308.70 L426.80 279.30 L419.50 279.30 L419.50 261.20 L426.80 261.20 Z" clip-rule="evenodd"/></clipPath>
<path d="M300.0 330 L420.0 210 M309.6 330 L429.6 210 M319.2 330 L439.2 210 M328.8 330 L448.8 210 M338.4 330 L458.4 210 M348.0 330 L468.0 210 M357.6 330 L477.6 210 M367.2 330 L487.2 210 M376.8 330 L496.8 210 M386.4 330 L506.4 210 M396.0 330 L516.0 210 M405.6 330 L525.6 210 M415.2 330 L535.2 210 M424.8 330 L544.8 210 M434.4 330 L554.4 210 M444.0 330 L564.0 210 M453.6 330 L573.6 210 M463.2 330 L583.2 210 M472.8 330 L592.8 210 M482.4 330 L602.4 210 M492.0 330 L612.0 210 M501.6 330 L621.6 210 M511.2 330 L631.2 210 M520.8 330 L640.8 210 M530.4 330 L650.4 210 M540.0 330 L660.0 210 M549.6 330 L669.6 210 M559.2 330 L679.2 210 M568.8 330 L688.8 210 M578.4 330 L698.4 210 M588.0 330 L708.0 210 M597.6 330 L717.6 210 M607.2 330 L727.2 210 M616.8 330 L736.8 210" stroke="#555" stroke-width="0.98" clip-path="url(#hc)"/>
<path d="M427.20 220.80 L497.50 220.80 L497.50 226.40 L505.30 226.40 L505.30 314.00 L497.40 314.00 L497.40 319.00 L427.20 319.00 L427.20 313.50 L418.80 313.50 L418.80 226.80 L427.20 226.80 Z M426.80 232.70 L437.40 232.70 L437.40 230.80 L487.00 230.80 L487.00 232.60 L498.60 232.60 L498.60 279.30 L498.60 307.80 L488.30 307.80 L488.30 310.80 L438.80 310.80 L438.80 308.70 L426.80 308.70 L426.80 279.30 L419.50 279.30 L419.50 261.20 L426.80 261.20 Z" fill="none" stroke-width="1.48"/>
<path d="M497.5 220.8 L514.5 220.8 A7.4 7.4 0 0 1 521.9 228.2 L521.9 311.8 A7.2 7.2 0 0 1 514.7 319 L497.4 319" stroke-width="2.08" fill="none" />
<rect x="416.9" y="175" width="105.4" height="41.8" stroke-width="1.68" stroke-dasharray="3.2 2.2" stroke-linecap="butt"/>
<rect x="439.60" y="236.20" width="46.40" height="13.40" fill="#fff" stroke-width="1.38"/>
<line x1="441.10" y1="236.20" x2="441.10" y2="249.60" stroke-width="1.18" stroke-linecap="butt"/>
<line x1="444.20" y1="236.20" x2="444.20" y2="249.60" stroke-width="1.18" stroke-linecap="butt"/>
<line x1="447.30" y1="236.20" x2="447.30" y2="249.60" stroke-width="1.18" stroke-linecap="butt"/>
<line x1="450.40" y1="236.20" x2="450.40" y2="249.60" stroke-width="1.18" stroke-linecap="butt"/>
<line x1="453.50" y1="236.20" x2="453.50" y2="249.60" stroke-width="1.18" stroke-linecap="butt"/>
<line x1="456.60" y1="236.20" x2="456.60" y2="249.60" stroke-width="1.18" stroke-linecap="butt"/>
<line x1="459.70" y1="236.20" x2="459.70" y2="249.60" stroke-width="1.18" stroke-linecap="butt"/>
<line x1="462.80" y1="236.20" x2="462.80" y2="249.60" stroke-width="1.18" stroke-linecap="butt"/>
<line x1="465.90" y1="236.20" x2="465.90" y2="249.60" stroke-width="1.18" stroke-linecap="butt"/>
<line x1="469.00" y1="236.20" x2="469.00" y2="249.60" stroke-width="1.18" stroke-linecap="butt"/>
<line x1="472.10" y1="236.20" x2="472.10" y2="249.60" stroke-width="1.18" stroke-linecap="butt"/>
<line x1="475.20" y1="236.20" x2="475.20" y2="249.60" stroke-width="1.18" stroke-linecap="butt"/>
<line x1="478.30" y1="236.20" x2="478.30" y2="249.60" stroke-width="1.18" stroke-linecap="butt"/>
<line x1="481.40" y1="236.20" x2="481.40" y2="249.60" stroke-width="1.18" stroke-linecap="butt"/>
<line x1="484.50" y1="236.20" x2="484.50" y2="249.60" stroke-width="1.18" stroke-linecap="butt"/>
<rect x="439.60" y="254.40" width="46.40" height="10.90" fill="#fff" stroke-width="1.38"/>
<line x1="441.10" y1="254.40" x2="441.10" y2="265.30" stroke-width="1.18" stroke-linecap="butt"/>
<line x1="444.20" y1="254.40" x2="444.20" y2="265.30" stroke-width="1.18" stroke-linecap="butt"/>
<line x1="447.30" y1="254.40" x2="447.30" y2="265.30" stroke-width="1.18" stroke-linecap="butt"/>
<line x1="450.40" y1="254.40" x2="450.40" y2="265.30" stroke-width="1.18" stroke-linecap="butt"/>
<line x1="453.50" y1="254.40" x2="453.50" y2="265.30" stroke-width="1.18" stroke-linecap="butt"/>
<line x1="456.60" y1="254.40" x2="456.60" y2="265.30" stroke-width="1.18" stroke-linecap="butt"/>
<line x1="459.70" y1="254.40" x2="459.70" y2="265.30" stroke-width="1.18" stroke-linecap="butt"/>
<line x1="462.80" y1="254.40" x2="462.80" y2="265.30" stroke-width="1.18" stroke-linecap="butt"/>
<line x1="465.90" y1="254.40" x2="465.90" y2="265.30" stroke-width="1.18" stroke-linecap="butt"/>
<line x1="469.00" y1="254.40" x2="469.00" y2="265.30" stroke-width="1.18" stroke-linecap="butt"/>
<line x1="472.10" y1="254.40" x2="472.10" y2="265.30" stroke-width="1.18" stroke-linecap="butt"/>
<line x1="475.20" y1="254.40" x2="475.20" y2="265.30" stroke-width="1.18" stroke-linecap="butt"/>
<line x1="478.30" y1="254.40" x2="478.30" y2="265.30" stroke-width="1.18" stroke-linecap="butt"/>
<line x1="481.40" y1="254.40" x2="481.40" y2="265.30" stroke-width="1.18" stroke-linecap="butt"/>
<line x1="484.50" y1="254.40" x2="484.50" y2="265.30" stroke-width="1.18" stroke-linecap="butt"/>
<rect x="439.60" y="275.40" width="46.40" height="10.80" fill="#fff" stroke-width="1.38"/>
<line x1="441.10" y1="275.40" x2="441.10" y2="286.20" stroke-width="1.18" stroke-linecap="butt"/>
<line x1="444.20" y1="275.40" x2="444.20" y2="286.20" stroke-width="1.18" stroke-linecap="butt"/>
<line x1="447.30" y1="275.40" x2="447.30" y2="286.20" stroke-width="1.18" stroke-linecap="butt"/>
<line x1="450.40" y1="275.40" x2="450.40" y2="286.20" stroke-width="1.18" stroke-linecap="butt"/>
<line x1="453.50" y1="275.40" x2="453.50" y2="286.20" stroke-width="1.18" stroke-linecap="butt"/>
<line x1="456.60" y1="275.40" x2="456.60" y2="286.20" stroke-width="1.18" stroke-linecap="butt"/>
<line x1="459.70" y1="275.40" x2="459.70" y2="286.20" stroke-width="1.18" stroke-linecap="butt"/>
<line x1="462.80" y1="275.40" x2="462.80" y2="286.20" stroke-width="1.18" stroke-linecap="butt"/>
<line x1="465.90" y1="275.40" x2="465.90" y2="286.20" stroke-width="1.18" stroke-linecap="butt"/>
<line x1="469.00" y1="275.40" x2="469.00" y2="286.20" stroke-width="1.18" stroke-linecap="butt"/>
<line x1="472.10" y1="275.40" x2="472.10" y2="286.20" stroke-width="1.18" stroke-linecap="butt"/>
<line x1="475.20" y1="275.40" x2="475.20" y2="286.20" stroke-width="1.18" stroke-linecap="butt"/>
<line x1="478.30" y1="275.40" x2="478.30" y2="286.20" stroke-width="1.18" stroke-linecap="butt"/>
<line x1="481.40" y1="275.40" x2="481.40" y2="286.20" stroke-width="1.18" stroke-linecap="butt"/>
<line x1="484.50" y1="275.40" x2="484.50" y2="286.20" stroke-width="1.18" stroke-linecap="butt"/>
<rect x="439.60" y="291.60" width="46.40" height="17.10" fill="#fff" stroke-width="1.38"/>
<line x1="441.10" y1="291.60" x2="441.10" y2="308.70" stroke-width="1.18" stroke-linecap="butt"/>
<line x1="444.20" y1="291.60" x2="444.20" y2="308.70" stroke-width="1.18" stroke-linecap="butt"/>
<line x1="447.30" y1="291.60" x2="447.30" y2="308.70" stroke-width="1.18" stroke-linecap="butt"/>
<line x1="450.40" y1="291.60" x2="450.40" y2="308.70" stroke-width="1.18" stroke-linecap="butt"/>
<line x1="453.50" y1="291.60" x2="453.50" y2="308.70" stroke-width="1.18" stroke-linecap="butt"/>
<line x1="456.60" y1="291.60" x2="456.60" y2="308.70" stroke-width="1.18" stroke-linecap="butt"/>
<line x1="459.70" y1="291.60" x2="459.70" y2="308.70" stroke-width="1.18" stroke-linecap="butt"/>
<line x1="462.80" y1="291.60" x2="462.80" y2="308.70" stroke-width="1.18" stroke-linecap="butt"/>
<line x1="465.90" y1="291.60" x2="465.90" y2="308.70" stroke-width="1.18" stroke-linecap="butt"/>
<line x1="469.00" y1="291.60" x2="469.00" y2="308.70" stroke-width="1.18" stroke-linecap="butt"/>
<line x1="472.10" y1="291.60" x2="472.10" y2="308.70" stroke-width="1.18" stroke-linecap="butt"/>
<line x1="475.20" y1="291.60" x2="475.20" y2="308.70" stroke-width="1.18" stroke-linecap="butt"/>
<line x1="478.30" y1="291.60" x2="478.30" y2="308.70" stroke-width="1.18" stroke-linecap="butt"/>
<line x1="481.40" y1="291.60" x2="481.40" y2="308.70" stroke-width="1.18" stroke-linecap="butt"/>
<line x1="484.50" y1="291.60" x2="484.50" y2="308.70" stroke-width="1.18" stroke-linecap="butt"/>
<rect x="440" y="232.2" width="46" height="3.6" fill="#555" stroke-width="0.98"/>
<path d="M431.3 236.4 L439.6 236.4 L439.6 249 C434.5 248.5 431.3 243.5 431.3 236.4 Z" fill="#777" stroke-width="1.38"/>
<path d="M494.3 236.4 L486 236.4 L486 249 C491.1 248.5 494.3 243.5 494.3 236.4 Z" fill="#777" stroke-width="1.38"/>
<path d="M439.6 292 C434 292.5 430.6 296 430.6 298.5 C430.6 302 434 304.5 439.6 304.6 C436 302.5 435 300.5 435 298.5 C435 296.5 436 294 439.6 292 Z" fill="#666" stroke-width="1.38"/>
<path d="M486 292 C491.6 292.5 495 296 495 298.5 C495 302 491.6 304.5 486 304.6 C489.6 302.5 490.6 300.5 490.6 298.5 C490.6 296.5 489.6 294 486 292 Z" fill="#666" stroke-width="1.38"/>
<rect x="435.20" y="257.50" width="4.20" height="3.50" rx="0.00" stroke-width="0.98" fill="#333" />
<rect x="435.20" y="280.00" width="4.20" height="3.50" rx="0.00" stroke-width="0.98" fill="#333" />
<rect x="486.00" y="257.50" width="4.20" height="3.50" rx="0.00" stroke-width="0.98" fill="#333" />
<rect x="486.00" y="280.00" width="4.20" height="3.50" rx="0.00" stroke-width="0.98" fill="#333" />
<line x1="354.00" y1="265.80" x2="508.00" y2="265.80" stroke-width="1.28" />
<line x1="354.00" y1="275.20" x2="508.00" y2="275.20" stroke-width="1.28" />
<line x1="396.10" y1="270.40" x2="404.50" y2="270.40" stroke-width="2.58" />
<rect x="396.1" y="223.4" width="8.4" height="94.6" fill="none" stroke-width="1.48"/>
<path d="M312.8 181.5 L312.8 175 C312.8 170 317 167.2 323.8 167.2 C330.6 167.2 334.7 170 334.7 175 L334.7 196.5 C334.7 203 330 204.2 324 204.2 C319 204.2 314.2 203.5 313.8 198 L313.8 181.5 Z" stroke-width="1.48" fill="#fff" />
<line x1="312.80" y1="181.30" x2="334.70" y2="181.30" stroke-width="2.38" stroke-linecap="butt"/>
<path d="M313.8 185 C309.5 185.5 307 188 307 191.2 C307 194.5 309.5 197 313.8 197.6" stroke-width="1.38" fill="none" />
<path d="M314.8 203.5 C316.5 210 318 220 318.5 236 C318.3 243 317 250 314.1 259.7 L312 283" stroke-width="1.38" fill="none" />
<line x1="316.00" y1="251.60" x2="331.30" y2="251.60" stroke-width="1.28" />
<line x1="331.30" y1="204.00" x2="331.30" y2="284.00" stroke-width="1.38" />
<path d="M311.2 283 L330.6 283 L330.6 303 C330.6 307 327 308.2 321 308.2 C315 308.2 311.2 307 311.2 303 Z" stroke-width="1.48" fill="#fff" />
<line x1="311.20" y1="293.80" x2="330.60" y2="293.80" stroke-width="2.38" stroke-linecap="butt"/>
<path d="M175.60 172.60 C176.83 172.43 173.93 171.43 183.00 171.60 C192.07 171.77 208.37 171.40 230.00 173.60 C251.63 175.80 299.00 182.93 312.80 184.80" stroke-width="1.58" fill="none" />
<path d="M175.60 184.50 C176.83 184.63 173.93 184.98 183.00 185.30 C192.07 185.62 208.37 184.35 230.00 186.40 C251.63 188.45 299.00 195.73 312.80 197.60" stroke-width="1.58" fill="none" />
<rect x="168.40" y="172.00" width="7.20" height="12.60" rx="0.00" stroke-width="1.78" fill="#fff" />
<rect x="196.20" y="168.80" width="11.50" height="13.70" rx="0.00" stroke-width="1.48" fill="#fff" />
<path d="M264 263.2 L304.8 263.4 L331.3 255.2" stroke-width="1.68" fill="none" />
<path d="M264 277.4 L304.8 277.4 L331.3 284.4" stroke-width="1.68" fill="none" />
<line x1="194.00" y1="265.70" x2="328.00" y2="265.70" stroke-width="1.28" />
<line x1="194.00" y1="276.20" x2="328.00" y2="276.20" stroke-width="1.28" />
<rect x="264" y="263.4" width="41" height="2.2" fill="#222" stroke="none"/>
<rect x="264" y="266.3" width="41" height="2.2" fill="#bbb" stroke="none"/>
<rect x="264" y="275.6" width="41" height="1.8" fill="#222" stroke="none"/>
<rect x="327.5" y="264.5" width="6.3" height="10.9" rx="1.5" fill="#fff" stroke-width="1.48"/>
<path d="M335.3 260.8 C339 259.5 342 261.5 344 263.7 C345 265 346 265.3 347 265.3 L354 265.3 M354 275.3 L347 275.3 C346 275.3 345 275.6 344 277 C342 279.5 339 280.5 335.3 278.6" stroke-width="1.48" fill="none" />
<path d="M335.6 262.5 C342.5 263 344 276 335.6 277.5" stroke-width="1.38" fill="none" />
<circle cx="338.4" cy="270" r="4" fill="none" stroke-width="1.48"/>
<line x1="354.00" y1="262.80" x2="354.00" y2="276.80" stroke-width="1.98" />
<g><path d="M111.70 218.30 C111.70 217.78 112.95 216.43 115.50 215.60 C118.05 214.77 123.78 213.75 127.00 213.30 C130.22 212.85 132.22 212.58 134.80 212.90 C137.38 213.22 140.83 214.43 142.50 215.20 C144.17 215.97 144.55 216.73 144.80 217.50 C145.05 218.27 145.67 218.97 144.00 219.80 C142.33 220.63 137.63 221.92 134.80 222.50 C131.97 223.08 129.57 223.62 127.00 223.30 C124.43 222.98 121.32 221.37 119.40 220.60 C117.48 219.83 116.78 219.08 115.50 218.70 C114.22 218.32 111.70 218.82 111.70 218.30 Z" stroke-width="1.48" fill="#fff"/>
<path d="M119.4 224.3 L145.5 224.3 M119.4 229.1 L145.5 229.1 M116 230.6 L146 230.6" stroke-width="1.28"/>
<path d="M111.7 218.3 C112 224 113 230 116 236 M119.4 220.6 L119.4 232 M113 222 L119 232 M113 228 L117 235" stroke-width="1.28"/>
<path d="M106 211 L157 211" stroke-width="1.18"/><path d="M137 211.4 L157 211.4" stroke-width="1.98"/>
<path d="M112.8 216 C110.5 220 110.8 226 112.6 230 C110 233 110 238 112.4 241 C111.5 245 112.5 249 112 252" stroke-width="1.48"/>
<path d="M104.5 233 L111.5 233 L111.5 238.5 L104.5 238.5 Z" fill="#333" stroke-width="0.98"/>
<path d="M106 246 L112 246 M106 241.5 L111 241.5" stroke-width="1.18"/>
<path d="M149.6 216.50 L155.1 220.10 M149.6 220.10 L155.1 223.70 M149.6 223.70 L155.1 227.30 M149.6 227.30 L155.1 230.90 M149.6 230.90 L155.1 234.50" stroke-width="1.68"/>
<path d="M149.2 217 L149.2 235 M155.1 217 L155.1 235 M146.8 214.4 L146.8 236 M146 214.4 L151.5 214.4" stroke-width="1.28"/>
<path d="M156.3 213.3 L156.3 247.5 C156.3 250.5 157.5 251.6 160 251.8" stroke-width="1.48"/>
<path d="M152.7 238 L152.7 247.5 C152.7 251.5 155 252.2 159 252.2" stroke-width="1.18"/>
<path d="M151.6 252.4 L163.65 252.4" stroke-width="1.58"/>
<rect x="142.7" y="248.6" width="7.1" height="5.4" fill="#fff" stroke-width="1.38"/>
<rect x="125" y="232" width="9.3" height="5.5" fill="#222" stroke-width="1.18"/>
<path d="M126.3 237.5 L126.3 250.7 M128.4 237.5 L128.4 250.7 M130.8 237.5 L130.8 250.7 M133 237.5 L133 250.7 M126.3 250.7 L133 250.7" stroke-width="1.28"/>
<path d="M135.4 249.7 C138 246 141 242.5 144.7 241.4" stroke-width="1.28"/>
<rect x="119.8" y="246.6" width="3.2" height="6.2" fill="#fff" stroke-width="1.18"/>
<path d="M145 230.5 L145 236 M136 232 L145 232" stroke-width="1.08"/></g>
<g transform="translate(327.3 0) scale(-1 1)"><path d="M111.70 218.30 C111.70 217.78 112.95 216.43 115.50 215.60 C118.05 214.77 123.78 213.75 127.00 213.30 C130.22 212.85 132.22 212.58 134.80 212.90 C137.38 213.22 140.83 214.43 142.50 215.20 C144.17 215.97 144.55 216.73 144.80 217.50 C145.05 218.27 145.67 218.97 144.00 219.80 C142.33 220.63 137.63 221.92 134.80 222.50 C131.97 223.08 129.57 223.62 127.00 223.30 C124.43 222.98 121.32 221.37 119.40 220.60 C117.48 219.83 116.78 219.08 115.50 218.70 C114.22 218.32 111.70 218.82 111.70 218.30 Z" stroke-width="1.48" fill="#fff"/>
<path d="M119.4 224.3 L145.5 224.3 M119.4 229.1 L145.5 229.1 M116 230.6 L146 230.6" stroke-width="1.28"/>
<path d="M111.7 218.3 C112 224 113 230 116 236 M119.4 220.6 L119.4 232 M113 222 L119 232 M113 228 L117 235" stroke-width="1.28"/>
<path d="M106 211 L157 211" stroke-width="1.18"/><path d="M137 211.4 L157 211.4" stroke-width="1.98"/>
<path d="M112.8 216 C110.5 220 110.8 226 112.6 230 C110 233 110 238 112.4 241 C111.5 245 112.5 249 112 252" stroke-width="1.48"/>
<path d="M104.5 233 L111.5 233 L111.5 238.5 L104.5 238.5 Z" fill="#333" stroke-width="0.98"/>
<path d="M106 246 L112 246 M106 241.5 L111 241.5" stroke-width="1.18"/>
<path d="M149.6 216.50 L155.1 220.10 M149.6 220.10 L155.1 223.70 M149.6 223.70 L155.1 227.30 M149.6 227.30 L155.1 230.90 M149.6 230.90 L155.1 234.50" stroke-width="1.68"/>
<path d="M149.2 217 L149.2 235 M155.1 217 L155.1 235 M146.8 214.4 L146.8 236 M146 214.4 L151.5 214.4" stroke-width="1.28"/>
<path d="M156.3 213.3 L156.3 247.5 C156.3 250.5 157.5 251.6 160 251.8" stroke-width="1.48"/>
<path d="M152.7 238 L152.7 247.5 C152.7 251.5 155 252.2 159 252.2" stroke-width="1.18"/>
<path d="M151.6 252.4 L163.65 252.4" stroke-width="1.58"/>
<rect x="142.7" y="248.6" width="7.1" height="5.4" fill="#fff" stroke-width="1.38"/>
<rect x="125" y="232" width="9.3" height="5.5" fill="#222" stroke-width="1.18"/>
<path d="M126.3 237.5 L126.3 250.7 M128.4 237.5 L128.4 250.7 M130.8 237.5 L130.8 250.7 M133 237.5 L133 250.7 M126.3 250.7 L133 250.7" stroke-width="1.28"/>
<path d="M135.4 249.7 C138 246 141 242.5 144.7 241.4" stroke-width="1.28"/>
<rect x="119.8" y="246.6" width="3.2" height="6.2" fill="#fff" stroke-width="1.18"/>
<path d="M145 230.5 L145 236 M136 232 L145 232" stroke-width="1.08"/></g>
<path d="M159.8 252 L159.8 172 C159.8 170 161 169.7 163.65 169.7 C166.3 169.7 167.5 170 167.5 172 L167.5 252" stroke-width="1.58" fill="none" />
<path d="M158.4 177.2 A3.2 3.2 0 0 0 158.4 183.6 Z" stroke-width="1.18" fill="#555" />
<path d="M112 210.6 L216 210.6" stroke="#999" stroke-width="1.08"/>
<rect x="134.5" y="254.6" width="59.2" height="9.2" fill="#fff" stroke="none"/>
<path d="M135.40 258.30 L137.10 262.60 L138.80 258.30 L140.50 262.60 L142.20 258.30 L143.90 262.60 L145.60 258.30 L147.30 262.60 L149.00 258.30 L150.70 262.60 L152.40 258.30 L154.10 262.60 L155.80 258.30 L157.50 262.60 L159.20 258.30 L160.90 262.60 L162.60 258.30 L164.30 262.60 L166.00 258.30 L167.70 262.60 L169.40 258.30 L171.10 262.60 L172.80 258.30 L174.50 262.60 L176.20 258.30 L177.90 262.60 L179.60 258.30 L181.30 262.60 L183.00 258.30 L184.70 262.60 L186.40 258.30 L188.10 262.60 L189.80 258.30 L191.50 262.60 L193.20 258.30" stroke-width="1.38"/>
<path d="M134.5 263.7 L134.5 257 C134.5 255.3 135.5 254.6 137.5 254.6 L191 254.6 C193 254.6 193.7 255.5 193.7 257 L193.7 263.7" stroke-width="1.38" fill="none" />
<line x1="127.00" y1="263.80" x2="196.00" y2="263.80" stroke-width="1.68" />
<line x1="123.00" y1="267.40" x2="170.00" y2="267.40" stroke-width="1.18" />
<path d="M111.6 251.8 L111.6 262 C112.5 266.5 117 268.5 123 268.3" stroke-width="1.48" fill="none" />
<circle cx="117.8" cy="261.7" r="5.4" fill="#fff" stroke-width="1.78"/>
<circle cx="117.8" cy="261.7" r="2.2" fill="none" stroke-width="1.28"/>
<path d="M120.9 272.5 L133.3 272.5 L133.3 276 L132 290.5 L133.6 290.5 L133.6 293.5 L124 293.5 L124 290.5 L125.5 290.5 L121.5 276 Z" stroke-width="1.48" fill="#fff" />
<path d="M133.4 271.6 C139 272.5 143 273 145.9 273.9 C148 276 149.5 278.5 150.5 280.7 C152 284 153 287 154.5 288.7 L157.3 289.8" stroke-width="1.58" fill="none" />
<path d="M143.7 272.2 C147 276 150.5 280 153.9 284.1" stroke-width="1.18" fill="none" />
<path d="M133.4 262.5 C140 264.5 149 267 156.2 269.3" stroke-width="1.18" fill="none" />
<path d="M170.4 287.5 C172.5 286.5 174 285.5 175.5 284.1 C177.5 281.5 179 279 181.2 277.3" stroke-width="1.48" fill="none" />
<rect x="157.9" y="290.2" width="11.9" height="6.6" rx="1.8" fill="#fff" stroke-width="1.58"/>
<line x1="161.70" y1="290.50" x2="161.70" y2="296.50" stroke-width="1.08" />
<line x1="166.00" y1="290.50" x2="166.00" y2="296.50" stroke-width="1.08" />
<path d="M157.3 264 L157.3 289.8 M170.4 264 L170.4 289.8 M160.1 266 L160.1 289.5 M166.4 266 L166.4 289.5" stroke-width="1.28" fill="none" />
<rect x="175.5" y="262.5" width="8" height="14.8" fill="#333" stroke="none"/>
<path d="M177.5 263 L177.5 277 M180 263 L180 277 M182.2 263 L182.2 277" stroke-width="0.88" fill="none" stroke="#999"/>
<path d="M167.50 254.20 C169.58 254.42 175.62 254.97 180.00 255.50 C184.38 256.03 189.43 257.43 193.80 257.40 C198.17 257.37 201.83 255.88 206.20 255.30 C210.57 254.72 217.03 254.25 220.00 253.90 C222.97 253.55 223.33 253.32 224.00 253.20" stroke-width="1.58" fill="none" />
<path d="M224.00 252.80 C225.33 253.08 229.25 253.70 232.00 254.50 C234.75 255.30 237.17 256.65 240.50 257.60 C243.83 258.55 247.92 259.30 252.00 260.20 C256.08 261.10 262.83 262.53 265.00 263.00" stroke-width="2.18" fill="none" />
<path d="M168.30 285.50 C171.42 285.12 180.68 283.32 187.00 283.20 C193.32 283.08 200.03 284.53 206.20 284.80 C212.37 285.07 219.42 285.25 224.00 284.80 C228.58 284.35 229.37 283.07 233.70 282.10 C238.03 281.13 244.78 279.88 250.00 279.00 C255.22 278.12 262.50 277.17 265.00 276.80" stroke-width="1.78" fill="none" />
<rect x="224" y="252" width="7" height="5.5" fill="#222" stroke="none"/>
<path d="M207 259.4 L225 259.4 M200 264.2 L240 264.2 M224 267.7 L250 267.7 M224 274.5 L250 274.5 M196 283.3 L230 283.3" stroke-width="1.18" fill="none" />
<line x1="193.80" y1="257.00" x2="193.80" y2="284.00" stroke-width="1.18" />
<line x1="206.20" y1="255.50" x2="206.20" y2="284.50" stroke-width="1.18" />
<line x1="224.00" y1="253.50" x2="224.00" y2="284.50" stroke-width="1.18" />
<line x1="229.60" y1="255.00" x2="229.60" y2="283.00" stroke-width="1.18" />
<line x1="233.70" y1="256.00" x2="233.70" y2="282.50" stroke-width="1.18" />
<rect x="229.6" y="255.5" width="4.1" height="7" fill="#333" stroke="none"/>
<rect x="206.2" y="264.9" width="17.8" height="7.6" fill="#111" stroke="none"/>
<path d="M209 265 L209 272.5 M213 265 L213 272.5 M217 265 L217 272.5" stroke-width="0.78" fill="none" stroke="#666"/>
<rect x="184" y="264.2" width="9.8" height="6.5" fill="#333" stroke="none"/>
<path d="M178 265 L178 270 M182 265 L182 270 M186 265 L186 270 M190 265 L190 270" stroke-width="0.78" fill="none" stroke="#888"/>
<rect x="196.6" y="274.5" width="9.6" height="6.2" fill="#fff" stroke-width="1.78"/>
<rect x="209" y="276.6" width="8.2" height="4.8" fill="#fff" stroke-width="1.48"/>
<rect x="220" y="274" width="4" height="7.5" fill="#222" stroke="none"/>
<rect x="231" y="264.2" width="11" height="3.5" fill="#fff" stroke-width="1.18"/>
<rect x="231" y="273.8" width="11" height="3.5" fill="#fff" stroke-width="1.18"/>
<path d="M206.2 271.8 L224 271.8 M196.6 271.8 L206.2 271.8" stroke-width="1.18" fill="none" />
<path d="M209 259.4 L209 264.2 M217 255 L217 259.4" stroke-width="1.18" fill="none" />
<ellipse cx="191.4" cy="275.6" rx="6.5" ry="4" fill="#fff" stroke-width="1.38"/>
<path d="M178.7 271.8 C172 272 168 276 168 280 C168 284 172 286.2 178.7 286.2" stroke-width="1.28" fill="none" />
<path d="M170 270.7 L194 270.7" stroke-width="1.28" fill="none" />
</g>
<g transform="translate(41.53 56.16) scale(0.793 1)"><text font-size="24.29" font-weight="normal"><tspan style="fill:none;stroke:none">1</tspan>0</text><path transform="translate(0.000 0) scale(0.01186 -0.01186)" d="M515 0 L515 1237 L197 1010 L197 1180 L530 1409 L696 1409 L696 0 Z" style="fill:#111;stroke:#111;stroke-width:21.1"/></g>
<g transform="translate(530.56 72.50) scale(0.845 1)"><text font-size="23.98" font-weight="normal"><tspan style="fill:none;stroke:none">1</tspan>4</text><path transform="translate(0.000 0) scale(0.01171 -0.01171)" d="M515 0 L515 1237 L197 1010 L197 1180 L530 1409 L696 1409 L696 0 Z" style="fill:#111;stroke:#111;stroke-width:21.3"/></g>
<text transform="translate(322.14 131.20) scale(0.763 1)" font-size="26.45" font-weight="normal">44</text>
<text transform="translate(360.25 131.20) scale(0.808 1)" font-size="25.92" font-weight="normal">22</text>
<text transform="translate(398.95 131.15) scale(0.809 1)" font-size="25.85" font-weight="normal">20</text>
<text transform="translate(451.10 131.15) scale(0.771 1)" font-size="25.85" font-weight="normal">50</text>
<text transform="translate(49.51 159.45) scale(0.841 1)" font-size="25.14" font-weight="normal">40</text>
<text transform="translate(95.41 159.70) scale(0.831 1)" font-size="25.49" font-weight="normal">42</text>
<g transform="translate(595.79 159.90) scale(0.832 1)"><text font-size="25.49" font-weight="normal"><tspan style="fill:none;stroke:none">1</tspan>2</text><path transform="translate(0.000 0) scale(0.01245 -0.01245)" d="M515 0 L515 1237 L197 1010 L197 1180 L530 1409 L696 1409 L696 0 Z" style="fill:#111;stroke:#111;stroke-width:20.1"/></g>
<text transform="translate(115.72 387.16) scale(0.820 1)" font-size="24.86" font-weight="normal">38</text>
<text transform="translate(180.33 359.96) scale(0.817 1)" font-size="24.72" font-weight="normal">36</text>
<text transform="translate(231.54 359.96) scale(0.805 1)" font-size="24.72" font-weight="normal">34</text>
<text transform="translate(270.05 360.08) scale(0.827 1)" font-size="25.18" font-weight="normal">28, 32</text>
<text transform="translate(350.06 360.20) scale(0.827 1)" font-size="25.06" font-weight="normal">24</text>
<g transform="translate(429.97 377.24) scale(0.817 1)"><text font-size="26.27" font-weight="normal"><tspan style="fill:none;stroke:none">1</tspan>8</text><path transform="translate(0.000 0) scale(0.01283 -0.01283)" d="M515 0 L515 1237 L197 1010 L197 1180 L530 1409 L696 1409 L696 0 Z" style="fill:#111;stroke:#111;stroke-width:19.5"/></g>
<g transform="translate(467.30 377.24) scale(0.802 1)"><text font-size="26.27" font-weight="normal"><tspan style="fill:none;stroke:none">1</tspan>6</text><path transform="translate(0.000 0) scale(0.01283 -0.01283)" d="M515 0 L515 1237 L197 1010 L197 1180 L530 1409 L696 1409 L696 0 Z" style="fill:#111;stroke:#111;stroke-width:19.5"/></g>
<text transform="translate(586.12 346.12) scale(0.816 1)" font-size="25.66" font-weight="normal">46, 48</text>
<text transform="translate(640.32 457.18) scale(0.845 1)" font-size="35.02" font-weight="bold">Fig. 2</text>
</svg></body></html>
